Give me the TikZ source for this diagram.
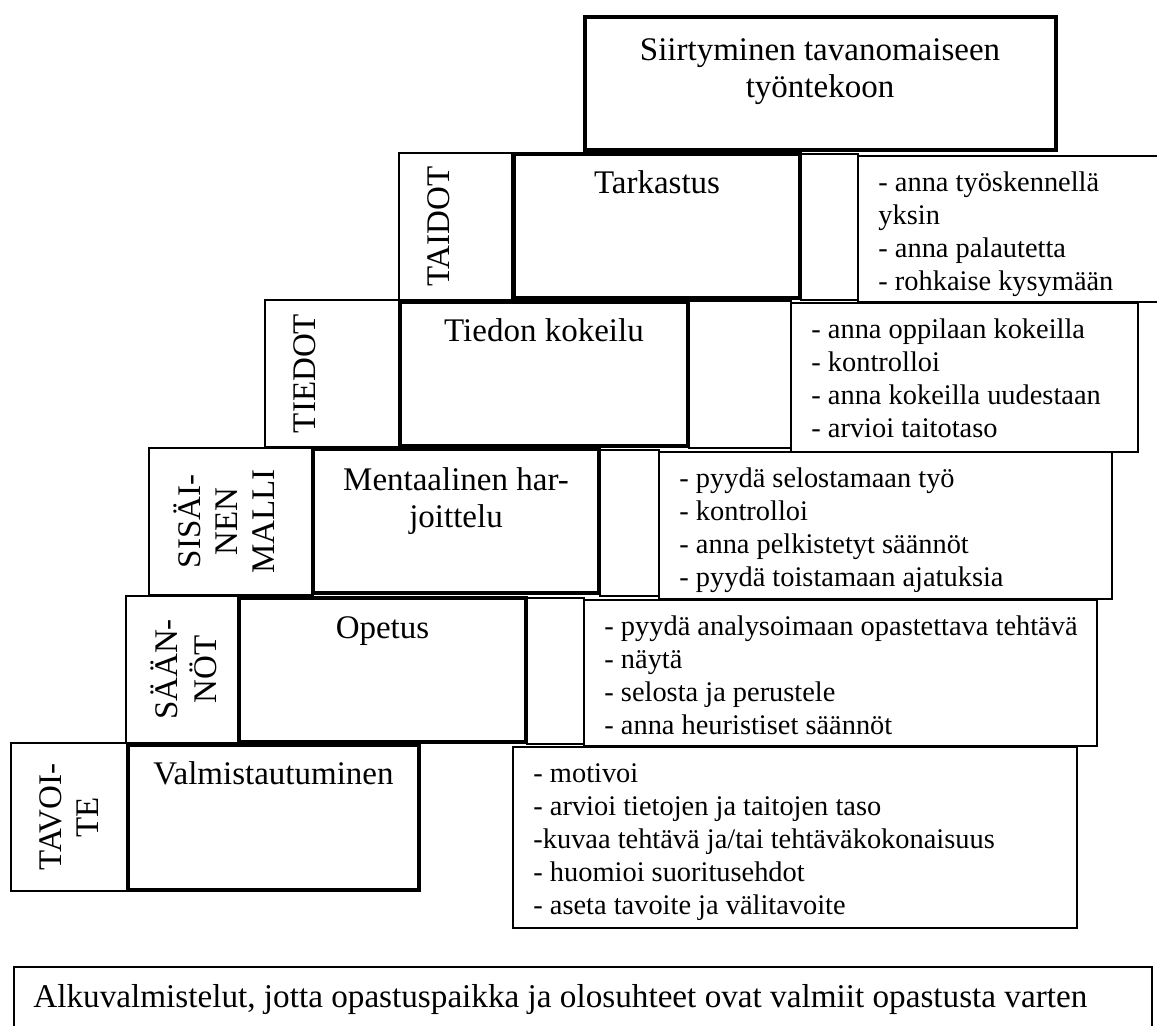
\documentclass[tikz,border=0pt]{standalone}
\usepackage{fontspec}
\setmainfont{Liberation Serif}
\tikzset{
 thickbox/.style={draw=black, line width=2.3pt},
 thinbox/.style={draw=black, line width=0.65pt},
 listbox/.style={draw=black, line width=0.65pt, fill=white},
 titletext/.style={anchor=north, align=center, inner sep=0pt, font=\fontsize{16.5}{18.5}\selectfont},
 sidetext/.style={anchor=north, align=center, inner sep=0pt, rotate=90, font=\fontsize{16.5}{18.5}\selectfont},
 listtext/.style={anchor=north west, align=left, inner sep=0pt, font=\fontsize{14.2}{16.5}\selectfont},
 basetext/.style={anchor=base west, inner sep=0pt, font=\fontsize{16.6}{19}\selectfont},
}
\begin{document}
\begin{tikzpicture}[x=0.5pt,y=-0.5pt]
\useasboundingbox (0,0) rectangle (1157,1025);
\fill[white] (0,0) rectangle (1157,1025);

% top box
\draw[thickbox] (585,17) rectangle (1056,150);
\node[titletext] (siir) at (820,34) {\strut Siirtyminen tavanomaiseen\\työntekoon};

% row 1: Tarkastus
\draw[thinbox] (399,153) rectangle (512,300);
\draw[thickbox] (514,154) rectangle (800,298);
\draw[thinbox] (801,154) rectangle (858,300);
\draw[listbox] (858,156) rectangle (1175,302);
\node[sidetext] (taidot) at (423,226.5) {\strut TAIDOT};
\node[titletext] (tark) at (657,167) {\strut Tarkastus};
\node[listtext] (tarklist) at (878,168) {\strut - anna työskennellä\\yksin\\- anna palautetta\\- rohkaise kysymään};

% row 2: Tiedon kokeilu
\draw[listbox] (791,303) rectangle (1138,452);
\draw[thinbox] (265,300) rectangle (400,447);
\draw[thickbox] (400,302) rectangle (688,446);
\draw[thinbox] (689,301) rectangle (791,448);
\node[sidetext] (tiedot) at (289,373.5) {\strut TIEDOT};
\node[titletext] (tied) at (544,315) {\strut Tiedon kokeilu};
\node[listtext] (tiedlist) at (811,315) {\strut - anna oppilaan kokeilla\\- kontrolloi\\- anna kokeilla uudestaan\\- arvioi taitotaso};

% row 3: Mentaalinen harjoittelu
\draw[listbox] (659,452) rectangle (1112,599);
\draw[thinbox] (149,448) rectangle (313,595);
\draw[thickbox] (313,449) rectangle (599,593);
\draw[thinbox] (600,450) rectangle (659,596);
\node[sidetext] (sisainen) at (173,521.5) {\strut SISÄI-\\NEN\\MALLI};
\node[titletext] (ment) at (456,464) {\strut Mentaalinen har-\\joittelu};
\node[listtext] (mentlist) at (679,464) {\strut - pyydä selostamaan työ\\- kontrolloi\\- anna pelkistetyt säännöt\\- pyydä toistamaan ajatuksia};

% row 4: Opetus
\draw[listbox] (584,600) rectangle (1097,746);
\draw[thinbox] (126,596) rectangle (239,743);
\draw[thickbox] (239,598) rectangle (526,742);
\draw[thinbox] (527,598) rectangle (584,744);
\node[sidetext] (saannot) at (150,669.5) {\strut SÄÄN-\\NÖT};
\node[titletext] (opet) at (382.5,612) {\strut Opetus};
\node[listtext] (opetlist) at (604,612) {\strut - pyydä analysoimaan opastettava tehtävä\\- näytä\\- selosta ja perustele\\- anna heuristiset säännöt};

% row 5: Valmistautuminen
\draw[listbox] (513,747) rectangle (1077,928);
\draw[thinbox] (11,743) rectangle (128,891);
\draw[thickbox] (128,745) rectangle (419,890);
\node[sidetext] (tavoite) at (35,817) {\strut TAVOI-\\TE};
\node[titletext] (valm) at (273.5,758) {\strut Valmistautuminen};
\node[listtext] (valmlist) at (533,759) {\strut - motivoi\\- arvioi tietojen ja taitojen taso\\-kuvaa tehtävä ja/tai tehtäväkokonaisuus\\- huomioi suoritusehdot\\- aseta tavoite ja välitavoite};

% bottom box
\draw[thinbox] (14,967) rectangle (1152,1045);
\node[basetext] (alku) at (33,1007) {Alkuvalmistelut, jotta opastuspaikka ja olosuhteet ovat valmiit opastusta varten};
\end{tikzpicture}
\end{document}
